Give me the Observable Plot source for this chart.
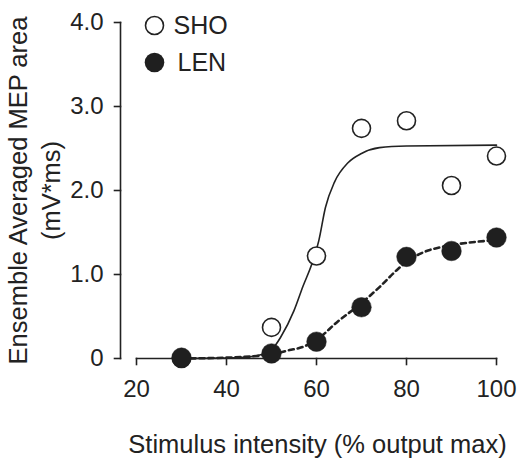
<!DOCTYPE html>
<html>
<head>
<meta charset="utf-8">
<script src="https://cdn.jsdelivr.net/npm/d3@7"></script>
<script src="https://cdn.jsdelivr.net/npm/@observablehq/plot@0.6"></script>
<style>
  html, body { margin: 0; padding: 0; background: #fff; }
  #chart svg { display: block; }
</style>
</head>
<body>
<div id="chart"></div>
<script>
// ---- data ----
const intensity = [30, 50, 60, 70, 80, 90, 100];
const shoValues = [0.0, 0.37, 1.22, 2.74, 2.83, 2.06, 2.41];
const lenValues = [0.01, 0.06, 0.20, 0.61, 1.21, 1.28, 1.44];

// fitted curves
const shoFitX = [30, 40, 45, 48, 50, 52, 55, 57, 59, 60.5, 62, 64, 67, 70, 74, 80, 100];
const shoFitY = [0.0, 0.005, 0.02, 0.05, 0.1, 0.25, 0.57, 0.86, 1.13, 1.40, 1.80, 2.10, 2.33, 2.44, 2.51, 2.53, 2.54];
const lenFitX = [30, 40, 50, 54, 56.5, 60, 64.5, 70, 74, 78, 80, 84, 88, 94, 100];
const lenFitY = [0.0, 0.01, 0.05, 0.10, 0.13, 0.22, 0.43, 0.66, 0.85, 1.06, 1.15, 1.27, 1.33, 1.38, 1.41];

const seriesNames = ["SHO", "LEN"];
const xTicks = [20, 40, 60, 80, 100];
const yTicks = [0, 1, 2, 3, 4];
const yTickLabels = ["0", "1.0", "2.0", "3.0", "4.0"];
const xTitle = "Stimulus intensity (% output max)";
const yTitle = "Ensemble Averaged MEP area\n(mV*ms)";

// ---- layout ----
const W = 518, H = 459;
const mL = 120, mR = 22, mT = 22, mB = 101;
const xRange = [136, W - mR];
const yRange = [H - mB, mT];
const xDomain = [xTicks[0], xTicks[xTicks.length - 1]];
const yDomain = [yTicks[0], yTicks[yTicks.length - 1]];
const ux = (xDomain[1] - xDomain[0]) / (xRange[1] - xRange[0]);   // x units per pixel
const uy = (yDomain[1] - yDomain[0]) / (yRange[0] - yRange[1]);   // y units per pixel
const tickLen = 6;
const yAxisX = xDomain[0] - (xRange[0] - mL) * ux;

// ---- tables built from the arrays ----
const sho = intensity.map((x, i) => ({x, y: shoValues[i]}));
const len = intensity.map((x, i) => ({x, y: lenValues[i]}));
const shoFit = shoFitX.map((x, i) => ({x, y: shoFitY[i]}));
const lenFit = lenFitX.map((x, i) => ({x, y: lenFitY[i]}));
const axisSegs = [
  {z: "ya", x: yAxisX, y: yDomain[0]}, {z: "ya", x: yAxisX, y: yDomain[1]},
  {z: "xa", x: xDomain[0], y: yDomain[0]}, {z: "xa", x: xDomain[1], y: yDomain[0]},
  ...yTicks.flatMap(t => [{z: "yt" + t, x: yAxisX, y: t}, {z: "yt" + t, x: yAxisX - tickLen * ux, y: t}]),
  ...xTicks.flatMap(t => [{z: "xt" + t, x: t, y: yDomain[0]}, {z: "xt" + t, x: t, y: yDomain[0] - tickLen * uy}])
];

const ink = "#222";
const font = "'Liberation Sans', Arial, Helvetica, sans-serif";

const chart = Plot.plot({
  width: W,
  height: H,
  marginLeft: mL,
  marginRight: mR,
  marginTop: mT,
  marginBottom: mB,
  style: {fontFamily: font, fontSize: "24px", background: "#fff"},
  x: {domain: xDomain, range: xRange, axis: null},
  y: {domain: yDomain, axis: null},
  marks: [
    // axis lines and tick marks
    Plot.line(axisSegs, {x: "x", y: "y", z: "z", stroke: ink, strokeWidth: 1.6, strokeLinecap: "square"}),
    // tick labels
    Plot.text(xTicks, {x: d => d, y: yDomain[0], text: d => String(d), dy: 31, textAnchor: "middle", lineAnchor: "middle", fontSize: 24, fill: ink}),
    Plot.text(yTicks, {frameAnchor: "left", y: d => d, text: (d, i) => yTickLabels[i], dx: -17, textAnchor: "end", lineAnchor: "middle", fontSize: 24, fill: ink}),
    // fits
    Plot.line(shoFit, {x: "x", y: "y", curve: "monotone-x", stroke: ink, strokeWidth: 1.6}),
    Plot.line(lenFit, {x: "x", y: "y", curve: "monotone-x", stroke: ink, strokeWidth: 2.6, strokeDasharray: "5,4"}),
    // data
    Plot.dot(sho, {x: "x", y: "y", r: 9, fill: "#fff", stroke: ink, strokeWidth: 1.6}),
    Plot.dot(len, {x: "x", y: "y", r: 9.8, fill: "#1f1f1f", stroke: "#1f1f1f", strokeWidth: 0.5}),
    // legend
    Plot.dot([seriesNames[0]], {frameAnchor: "top-left", dx: 34, dy: 3, r: 9, fill: "#fff", stroke: ink, strokeWidth: 1.6}),
    Plot.dot([seriesNames[1]], {frameAnchor: "top-left", dx: 34, dy: 40, r: 9.8, fill: "#1f1f1f"}),
    Plot.text([seriesNames[0]], {text: d => d, frameAnchor: "top-left", dx: 53, dy: 3, textAnchor: "start", lineAnchor: "middle", fontSize: 25, fill: ink}),
    Plot.text([seriesNames[1]], {text: d => d, frameAnchor: "top-left", dx: 57, dy: 40, textAnchor: "start", lineAnchor: "middle", fontSize: 25, fill: ink}),
    // titles
    Plot.text([xTitle], {text: d => d, frameAnchor: "bottom", dx: 9, dy: 86, textAnchor: "middle", lineAnchor: "middle", fontSize: 25.5, fill: ink}),
    Plot.text([yTitle], {text: d => d, frameAnchor: "left", dx: -88, dy: 0, rotate: -90, textAnchor: "middle", lineAnchor: "middle", lineHeight: 1.3, fontSize: 25.5, fill: ink})
  ]
});
document.getElementById("chart").appendChild(chart);
</script>
</body>
</html>
